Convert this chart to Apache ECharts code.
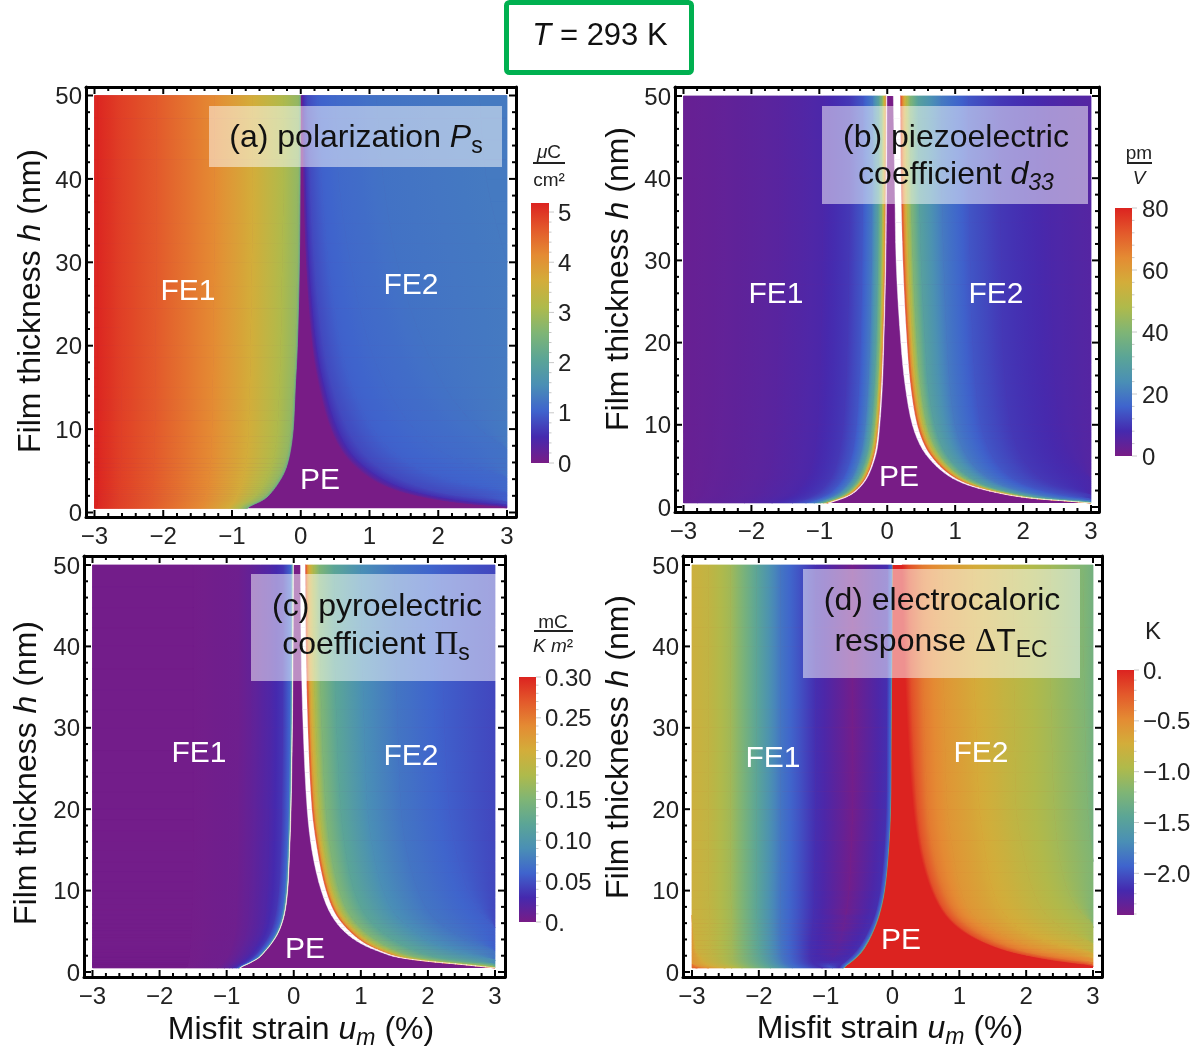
<!DOCTYPE html>
<html><head><meta charset="utf-8">
<style>html,body{margin:0;padding:0;background:#fff}#c{width:1202px;height:1047px}</style>
<script src="https://cdn.jsdelivr.net/npm/echarts@6/dist/echarts.min.js"></script>
</head><body><div id="c"></div>
<script>
// ---- shared axes data ----
const thicknessRows = [50,40,30,20,15,10,7,5,3.5,2.5,1.8,1.3,1,.75,.5];
const strainTicks = [-3,-2,-1,0,1,2,3];
const strainMinor = [-2.8,-2.6,-2.4,-2.2,-1.8,-1.6,-1.4,-1.2,-.8,-.6,-.4,-.2,.2,.4,.6,.8,1.2,1.4,1.6,1.8,2.2,2.4,2.6,2.8];
const thicknessTicks = [0,10,20,30,40,50];
const thicknessMinor = [2,4,6,8,12,14,16,18,22,24,26,28,32,34,36,38,42,44,46,48];
const rainbow = ['#781C86','#4529AE','#3F64CD','#4A8FB5','#5BA596','#7FB575','#AFBA4B','#D3AD3A','#E48B33','#E3592B','#DC2320'];

// ---- (a) polarization: iso-value curves, strain at each thickness row ----
const aRange = [0,5.18];
const aBarTicks = [0,1,2,3,4,5];
const aLeftLevels = [2.4,2.8,3.1,3.63,4.14,4.66,4.9,5.15];
const aLeftStrain = [
[-.005,-.01,-.02,-.05,-.08,-.11,-.16,-.23,-.33,-.42,-.5,-.6,-.68,-.74,-.78],
[-.03,-.04,-.05,-.08,-.11,-.15,-.2,-.28,-.38,-.47,-.56,-.66,-.74,-.8,-.83],
[-.25,-.25,-.27,-.29,-.31,-.34,-.38,-.45,-.53,-.61,-.69,-.77,-.83,-.87,-.9],
[-.7,-.7,-.71,-.73,-.74,-.76,-.78,-.82,-.86,-.9,-.94,-.97,-1,-1.03,-1.05],
[-1.25,-1.25,-1.26,-1.27,-1.28,-1.29,-1.3,-1.32,-1.34,-1.36,-1.38,-1.4,-1.42,-1.43,-1.45],
[-2.1,-2.1,-2.1,-2.11,-2.11,-2.12,-2.13,-2.14,-2.15,-2.16,-2.17,-2.18,-2.19,-2.2,-2.2],
[-2.6,-2.6,-2.6,-2.6,-2.6,-2.61,-2.61,-2.62,-2.62,-2.63,-2.63,-2.64,-2.64,-2.65,-2.65],
[-2.95,-2.95,-2.95,-2.95,-2.95,-2.95,-2.95,-2.95,-2.95,-2.95,-2.96,-2.96,-2.96,-2.97,-2.97]];
const aRightLevels = [0,.3,.6,.8,1,1.1,1.2,1.3];
const aRightStrain = [
[.01,.03,.07,.16,.26,.43,.62,.85,1.12,1.42,1.75,2.1,2.4,2.75,3.1],
[.02,.05,.09,.19,.3,.47,.67,.92,1.2,1.52,1.88,2.25,2.58,3,3.4],
[.05,.08,.13,.24,.36,.55,.76,1.03,1.35,1.7,2.1,2.55,2.95,3.4,4],
[.1,.14,.2,.33,.46,.68,.92,1.22,1.6,2,2.5,3.05,3.5,4,4],
[.25,.3,.4,.58,.75,1.05,1.38,1.8,2.35,2.95,3.6,4,4,4,4],
[.5,.55,.72,1,1.25,1.65,2.1,2.7,3.4,4,4,4,4,4,4],
[1.1,1.2,1.4,1.8,2.1,2.6,3.2,4,4,4,4,4,4,4,4],
[2.6,2.7,3,3.4,4,4,4,4,4,4,4,4,4,4,4]];

// ---- (b) piezoelectric coefficient ----
const bRange = [0,80];
const bBarTicks = [0,20,40,60,80];
const bWhiteLeft = [
[-.005,-.01,-.02,-.05,-.07,-.11,-.15,-.22,-.3,-.39,-.48,-.58,-.67,-.76,-.85],
[-.015,-.02,-.03,-.06,-.085,-.125,-.17,-.235,-.315,-.405,-.495,-.595,-.685,-.775,-.87]];
const bWhiteRight = [
[.09,.11,.13,.2,.26,.37,.52,.72,.96,1.25,1.58,1.9,2.2,2.6,3],
[.19,.2,.23,.29,.34,.44,.58,.77,1,1.28,1.6,1.92,2.22,2.62,3]];
const bLeftLevels = [80,60,40,30,20,14,10,7,5,3.5,2.5];
const bLeftStrain = [
[-.015,-.02,-.03,-.06,-.085,-.125,-.17,-.235,-.315,-.405,-.495,-.595,-.685,-.775,-.87],
[-.03,-.035,-.045,-.075,-.1,-.14,-.19,-.26,-.34,-.43,-.52,-.62,-.71,-.8,-.89],
[-.08,-.085,-.095,-.12,-.145,-.19,-.24,-.31,-.39,-.48,-.57,-.67,-.76,-.85,-.94],
[-.13,-.135,-.145,-.17,-.195,-.24,-.29,-.36,-.44,-.53,-.62,-.72,-.81,-.9,-.99],
[-.22,-.225,-.235,-.26,-.285,-.33,-.38,-.45,-.53,-.62,-.71,-.81,-.9,-.99,-1.08],
[-.36,-.365,-.375,-.4,-.42,-.46,-.51,-.58,-.66,-.75,-.84,-.94,-1.03,-1.12,-1.2],
[-.55,-.555,-.565,-.59,-.61,-.65,-.7,-.76,-.84,-.93,-1.02,-1.12,-1.2,-1.3,-1.4],
[-.95,-.95,-.96,-.98,-1,-1.03,-1.07,-1.12,-1.2,-1.28,-1.36,-1.45,-1.53,-1.62,-1.7],
[-1.6,-1.6,-1.6,-1.62,-1.63,-1.65,-1.68,-1.72,-1.78,-1.84,-1.9,-1.96,-2,-2.05,-2.1],
[-2.4,-2.4,-2.4,-2.41,-2.42,-2.44,-2.46,-2.5,-2.54,-2.58,-2.62,-2.66,-2.7,-2.75,-2.8],
[-3,-3,-3,-3,-3,-3,-3,-3.02,-3.05,-3.08,-3.1,-3.14,-3.18,-3.2,-3.25]];
const bRightLevels = [80,70,60,50,40,30,20,14,10,7,5.5];
const bRightStrain = [
[.19,.2,.23,.29,.34,.44,.58,.77,1,1.28,1.6,1.92,2.22,2.62,3],
[.21,.22,.25,.31,.36,.46,.6,.79,1.02,1.3,1.62,1.94,2.24,2.64,3],
[.24,.25,.28,.34,.39,.49,.63,.82,1.05,1.33,1.65,1.97,2.27,2.67,3.02],
[.28,.29,.32,.38,.43,.53,.67,.86,1.09,1.37,1.69,2,2.3,2.7,3.05],
[.34,.35,.38,.44,.49,.59,.73,.91,1.14,1.42,1.74,2.05,2.35,2.75,3.1],
[.46,.47,.5,.56,.6,.7,.83,1.01,1.24,1.5,1.82,2.13,2.43,2.82,3.2],
[.8,.8,.83,.88,.92,1,1.12,1.28,1.5,1.75,2.05,2.35,2.65,3.05,3.4],
[1.2,1.2,1.22,1.26,1.3,1.38,1.5,1.65,1.85,2.1,2.4,2.7,3,3.4,3.8],
[1.66,1.66,1.68,1.7,1.74,1.82,1.93,2.08,2.28,2.52,2.82,3.15,3.5,3.8,4],
[2.4,2.4,2.42,2.45,2.48,2.55,2.65,2.8,3,3.25,3.6,4,4,4,4],
[3.2,3.2,3.22,3.25,3.28,3.35,3.45,3.6,3.8,4,4,4,4,4,4]];

// ---- (c) pyroelectric coefficient ----
const cRange = [0,.3];
const cBarTicks = [0,.05,.1,.15,.2,.25,.3];
const cWhiteLeft = [
[-.005,-.01,-.02,-.04,-.06,-.09,-.14,-.22,-.33,-.43,-.51,-.61,-.68,-.75,-.8],
[-.012,-.017,-.027,-.047,-.067,-.097,-.147,-.227,-.337,-.437,-.517,-.617,-.687,-.757,-.807]];
const cWhiteRight = [
[.1,.11,.14,.2,.27,.41,.56,.75,1,1.28,1.55,2,2.4,2.7,3],
[.17,.18,.21,.27,.35,.48,.63,.83,1.06,1.32,1.58,2.02,2.42,2.72,3]];
const cLeftLevels = [.2,.1,.06,.036,.024,.018,.012,.006,.003];
const cLeftStrain = [
[-.012,-.017,-.027,-.047,-.067,-.097,-.147,-.227,-.337,-.437,-.517,-.617,-.687,-.757,-.807],
[-.022,-.027,-.037,-.057,-.077,-.107,-.157,-.237,-.347,-.447,-.527,-.627,-.697,-.767,-.817],
[-.05,-.055,-.065,-.085,-.105,-.14,-.19,-.27,-.38,-.48,-.56,-.65,-.72,-.78,-.83],
[-.16,-.165,-.17,-.185,-.2,-.23,-.28,-.35,-.45,-.54,-.62,-.7,-.76,-.82,-.86],
[-.35,-.355,-.36,-.37,-.38,-.4,-.43,-.48,-.56,-.64,-.71,-.78,-.83,-.87,-.91],
[-.5,-.5,-.5,-.51,-.52,-.53,-.55,-.59,-.66,-.73,-.79,-.85,-.89,-.93,-.96],
[-.65,-.65,-.65,-.66,-.66,-.67,-.69,-.72,-.77,-.83,-.88,-.93,-.97,-1,-1.03],
[-.83,-.83,-.83,-.84,-.84,-.85,-.86,-.88,-.92,-.96,-1,-1.05,-1.08,-1.11,-1.14],
[-1.5,-1.5,-1.5,-1.5,-1.5,-1.51,-1.52,-1.53,-1.54,-1.55,-1.56,-1.57,-1.58,-1.59,-1.6]];
const cRightLevels = [.3,.26,.22,.18,.15,.12,.09,.072,.057,.045];
const cRightStrain = [
[.17,.18,.21,.27,.35,.48,.63,.83,1.06,1.32,1.58,2.02,2.42,2.72,3],
[.19,.2,.23,.29,.37,.5,.65,.85,1.08,1.34,1.6,2.04,2.44,2.74,3.02],
[.22,.23,.26,.32,.4,.53,.68,.89,1.12,1.38,1.64,2.08,2.48,2.78,3.05],
[.29,.3,.33,.39,.46,.59,.75,.96,1.2,1.46,1.72,2.16,2.56,2.86,3.1],
[.38,.39,.42,.48,.55,.68,.84,1.06,1.32,1.58,1.86,2.3,2.7,3,3.2],
[.6,.61,.64,.7,.77,.9,1.07,1.3,1.58,1.86,2.15,2.6,3,3.3,3.5],
[1,1.02,1.05,1.1,1.18,1.33,1.52,1.8,2.1,2.45,2.8,3.2,3.6,4,4],
[1.5,1.52,1.55,1.6,1.68,1.85,2.05,2.35,2.7,3.05,3.5,4,4,4,4],
[2.2,2.22,2.25,2.32,2.42,2.6,2.82,3.1,3.5,4,4,4,4,4,4],
[3,3.02,3.05,3.12,3.22,3.4,3.7,4,4,4,4,4,4,4,4]];

// ---- (d) electrocaloric response ----
const dRange = [-2.41,0];
const dBarTicks = [-2,-1.5,-1,-.5,0];
const dLeftLevels = [-1.4,-1.9,-2.15,
  [-2.38,-2.38,-2.38,-2.38,-2.38,-2.37,-2.35,-2.3,-2.27,-2.25,-2.22,-2.18,-2.12,-2.05,-1.95],
  -2.15,-1.83,-1.45,-1.04,-.85,-.77,-.55,-.3];
const dLeftStrain = [
[-.005,-.01,-.02,-.03,-.06,-.12,-.2,-.29,-.38,-.46,-.54,-.61,-.66,-.7,-.73],
[-.015,-.02,-.03,-.04,-.07,-.135,-.22,-.31,-.41,-.49,-.57,-.64,-.69,-.72,-.75],
[-.08,-.085,-.09,-.1,-.13,-.19,-.27,-.37,-.47,-.56,-.64,-.71,-.76,-.79,-.8],
[-.6,-.6,-.6,-.6,-.62,-.65,-.7,-.75,-.8,-.85,-.9,-.93,-.95,-.95,-.9],
[-1.15,-1.15,-1.15,-1.15,-1.16,-1.17,-1.18,-1.2,-1.22,-1.22,-1.22,-1.2,-1.17,-1.12,-1.05],
[-1.67,-1.67,-1.67,-1.67,-1.67,-1.68,-1.68,-1.68,-1.67,-1.66,-1.65,-1.62,-1.6,-1.55,-1.5],
[-2.03,-2.03,-2.03,-2.03,-2.03,-2.03,-2.03,-2.02,-2.01,-2,-1.98,-1.95,-1.92,-1.88,-1.82],
[-2.42,-2.42,-2.42,-2.42,-2.42,-2.42,-2.41,-2.41,-2.41,-2.4,-2.4,-2.38,-2.35,-2.3,-2.25],
[-2.75,-2.75,-2.75,-2.75,-2.75,-2.75,-2.74,-2.74,-2.73,-2.72,-2.7,-2.65,-2.6,-2.5,-2.4],
[-3,-3,-3,-3,-3,-3,-3,-2.98,-2.95,-2.92,-2.85,-2.8,-2.72,-2.65,-2.5],
[-3.4,-3.4,-3.4,-3.4,-3.4,-3.4,-3.4,-3.4,-3.35,-3.3,-3.2,-3.1,-3,-2.9,-2.75],
[-4,-4,-4,-4,-4,-4,-4,-4,-4,-4,-3.8,-3.6,-3.3,-3.1,-2.92]];
const dRightLevels = [0,-.2,-.4,-.55,-.7,-.87,-1.03,-1.2,-1.28];
const dRightStrain = [
[.14,.17,.22,.31,.4,.58,.78,1.04,1.38,1.72,2.1,2.45,2.72,2.95,3.1],
[.25,.27,.31,.38,.46,.63,.83,1.1,1.44,1.8,2.2,2.6,2.9,3.15,3.4],
[.45,.46,.48,.53,.61,.78,.98,1.27,1.63,2,2.45,2.9,3.3,3.6,3.9],
[.75,.76,.78,.82,.9,1.02,1.2,1.55,1.95,2.4,2.9,3.4,4,4,4],
[1.2,1.21,1.25,1.3,1.38,1.5,1.68,1.95,2.4,2.9,3.4,4,4,4,4],
[1.8,1.81,1.83,1.85,1.95,2.1,2.3,2.6,3,3.5,4,4,4,4,4],
[2.36,2.36,2.38,2.42,2.48,2.62,2.85,3.15,3.6,4,4,4,4,4,4],
[2.85,2.86,2.88,2.92,2.98,3.15,3.4,3.8,4,4,4,4,4,4,4],
[3.05,3.06,3.08,3.12,3.2,3.4,3.7,4,4,4,4,4,4,4,4]];

// ---- layout (pixels) ----
const FONT = '"Liberation Sans", Arial, sans-serif';
const panels = [
 {frame:[86,516,87,517],  x3:[94.5,507], y50:[95.5,512.5], range:aRange, pe:0,
  sides:[[aLeftLevels,aLeftStrain,-3],[aRightLevels,aRightStrain,3]], whites:[],
  bar:[531,549,203,463], barTicks:aBarTicks, barMargin:9, barLabel:v=>String(v)},
 {frame:[675,1099,87,512], x3:[683.5,1091], y50:[96,507], range:bRange, pe:0,
  sides:[[bLeftLevels,bLeftStrain,-3],[bRightLevels,bRightStrain,3]], whites:[bWhiteLeft,bWhiteRight],
  bar:[1115,1132,208,456], barTicks:bBarTicks, barMargin:10, barLabel:v=>String(v)},
 {frame:[84,505,556,977], x3:[92.5,495], y50:[565,972], range:cRange, pe:0,
  sides:[[cLeftLevels,cLeftStrain,-3],[cRightLevels,cRightStrain,3]], whites:[cWhiteLeft,cWhiteRight],
  bar:[519,536,677,922], barTicks:cBarTicks, barMargin:9, barLabel:v=>v===0?'0.':v.toFixed(2)},
 {frame:[683,1102,556,977], x3:[692,1093], y50:[565,972], range:dRange, pe:1,
  sides:[[dLeftLevels,dLeftStrain,-3],[dRightLevels,dRightStrain,3]], whites:[],
  bar:[1117,1134,670,915], barTicks:dBarTicks, barMargin:9, barLabel:v=>v===0?'0.':'−'+(-v).toFixed(1)}
];

// ---- colour scale ----
function hex(c){return [parseInt(c.slice(1,3),16),parseInt(c.slice(3,5),16),parseInt(c.slice(5,7),16)];}
const rampRGB = rainbow.map(hex);
function ramp(t){
  t=Math.max(0,Math.min(1,t));
  const p=t*(rampRGB.length-1), i=Math.min(rampRGB.length-2,Math.floor(p)), f=p-i;
  const a=rampRGB[i], b=rampRGB[i+1];
  return 'rgb('+[0,1,2].map(k=>Math.round(a[k]+(b[k]-a[k])*f)).join(',')+')';
}
// ---- curves: drawn as smooth splines through the typed rows (like a smooth line) ----
const tables=[];
function clampU(u){return Math.max(-3,Math.min(3,u));}
function levelAt(l,r){return Array.isArray(l)?(l[r]+l[r+1])/2:l;}
const logRows=thicknessRows.map(Math.log);
function tangent(c,r){
  const n=c.length;
  const a=Math.max(0,r-1), b=Math.min(n-1,r+1);
  return (c[b]-c[a])/(logRows[b]-logRows[a]);
}
function curveU(c,r,f){ // cubic Hermite in log thickness
  const d=logRows[r+1]-logRows[r];
  const f2=f*f,f3=f2*f;
  return (2*f3-3*f2+1)*c[r]+(f3-2*f2+f)*d*tangent(c,r)+(-2*f3+3*f2)*c[r+1]+(f3-f2)*d*tangent(c,r+1);
}
function rowH(r,f){return Math.exp(logRows[r]+(logRows[r+1]-logRows[r])*f);}
const SUB=4;
// ---- one mesh cell per item: [u, u, u, u, h, h, v, v, table, contour, row] ----
function cells(levels,strain,edge){
  const id=tables.push({strain,edge})-1;
  const out=[];
  const n=strain.length;
  for(let k=0;k<n;k++){
    const a=strain[k], b=k<n-1?strain[k+1]:null;
    for(let r=0;r<thicknessRows.length-1;r++){
      const u1=clampU(a[r]),u2=clampU(a[r+1]);
      const u3=b?clampU(b[r]):edge,u4=b?clampU(b[r+1]):edge;
      if(Math.abs(u1-u3)<1e-6&&Math.abs(u2-u4)<1e-6) continue;
      const v1=levelAt(levels[k],r), v2=b?levelAt(levels[k+1],r):v1;
      out.push([u1,u2,u3,u4,thicknessRows[r],thicknessRows[r+1],v1,v2,id,k,r]);
    }
  }
  return out;
}
function meshSeries(g,data,range){
  return {type:'custom',xAxisIndex:g.x,yAxisIndex:g.y,coordinateSystem:'cartesian2d',silent:true,animation:false,
    clip:false,progressive:0,z:3,
    encode:{x:[0,1,2,3],y:[4,5]},data,
    renderItem(p,api){
      const v=i=>api.value(i);
      const tb=tables[v(8)],k=v(9),r=v(10);
      const ca=tb.strain[k], cb=tb.strain[k+1];
      const span=range[1]-range[0], t1=(v(6)-range[0])/span, t2=(v(7)-range[0])/span;
      const children=[];
      for(let j=0;j<SUB;j++){
        const f0=j/SUB,f1=(j+1)/SUB,h0=rowH(r,f0),h1=rowH(r,f1);
        const A=api.coord([clampU(curveU(ca,r,f0)),h0]),B=api.coord([clampU(curveU(ca,r,f1)),h1]);
        const C=api.coord([cb?clampU(curveU(cb,r,f0)):tb.edge,h0]),D=api.coord([cb?clampU(curveU(cb,r,f1)):tb.edge,h1]);
        if(Math.abs(A[0]-C[0])<.15&&Math.abs(B[0]-D[0])<.15) continue;
        let ex=(B[0]-A[0])+(D[0]-C[0]),ey=(B[1]-A[1])+(D[1]-C[1]);
        const len=Math.hypot(ex,ey)||1;ex/=len;ey/=len;
        const nx=ey,ny=-ex;
        const mx=(A[0]+B[0])/2,my=(A[1]+B[1])/2,Mx=(C[0]+D[0])/2,My=(C[1]+D[1])/2;
        const d=(Mx-mx)*nx+(My-my)*ny;
        let fill;
        if(Math.abs(d)<.05||t1===t2){fill=ramp((t1+t2)/2);}
        else{
          const stops=[0,.25,.5,.75,1].map(o=>({offset:o,color:ramp(t1+(t2-t1)*o)}));
          fill=new echarts.graphic.LinearGradient(mx,my,mx+nx*d,my+ny*d,stops,true);
        }
        children.push({type:'polygon',shape:{points:[A,C,D,B]},style:{fill,stroke:fill,lineWidth:.8,lineJoin:'round'}});
      }
      return {type:'group',children};
    }};
}
function bandSeries(g,band){
  const data=[];
  for(let r=0;r<thicknessRows.length-1;r++)
    data.push([clampU(band[0][r]),clampU(band[0][r+1]),clampU(band[1][r]),clampU(band[1][r+1]),thicknessRows[r],thicknessRows[r+1],r]);
  return {type:'custom',xAxisIndex:g.x,yAxisIndex:g.y,silent:true,animation:false,clip:false,progressive:0,z:4,
    encode:{x:[0,1,2,3],y:[4,5]},data,
    renderItem(p,api){
      const r=api.value(6);
      const children=[];
      for(let j=0;j<SUB;j++){
        const f0=j/SUB,f1=(j+1)/SUB,h0=rowH(r,f0),h1=rowH(r,f1);
        children.push({type:'polygon',shape:{points:[
          api.coord([clampU(curveU(band[0],r,f0)),h0]),api.coord([clampU(curveU(band[1],r,f0)),h0]),
          api.coord([clampU(curveU(band[1],r,f1)),h1]),api.coord([clampU(curveU(band[0],r,f1)),h1])]},
          style:{fill:'#fff',stroke:'#fff',lineWidth:.4}});
      }
      return {type:'group',children};
    }};
}
function baseSeries(g,color){
  return {type:'custom',xAxisIndex:g.x,yAxisIndex:g.y,silent:true,animation:false,clip:false,z:2,
    encode:{x:[0,1],y:[2,3]},data:[[-3,3,50,.5]],
    renderItem(p,api){
      const a=api.coord([api.value(0),api.value(2)]),b=api.coord([api.value(1),api.value(3)]);
      return {type:'rect',shape:{x:a[0],y:a[1],width:b[0]-a[0],height:b[1]-a[1]},style:{fill:color}};
    }};
}
// tick marks: item = [x value, y value, pixel dx, pixel dy], placed through the axes' scales
function tickSeries(xi,yi,data,color,w){
  return {type:'custom',xAxisIndex:xi,yAxisIndex:yi,silent:true,animation:false,clip:false,progressive:0,z:6,
    encode:{x:0,y:1},data,
    renderItem(p,api){
      const a=api.coord([api.value(0),api.value(1)]);
      return {type:'line',shape:{x1:a[0],y1:a[1],x2:a[0]+api.value(2),y2:a[1]+api.value(3)},style:{stroke:color,lineWidth:w}};
    }};
}
// ---- option assembly ----
const grid=[],xAxis=[],yAxis=[],series=[];
function addGrid(rect){ grid.push({left:rect[0],width:rect[1]-rect[0],top:rect[2],height:rect[3]-rect[2],containLabel:false});
  return grid.length-1; }
function richLabel(size,fmt,margin,shift){
  return {show:true,margin,fontFamily:FONT,fontSize:size,color:'#222',
    formatter:v=>'{a|'+fmt(v)+'}',
    rich:{a:{fontSize:size,fontFamily:FONT,color:'#222',padding:[shift,0,0,0]}}};
}
function xA(gi,r,pos,vals,labels){
  xAxis.push({type:'value',gridIndex:gi,position:pos,min:r[0],max:r[1],splitLine:{show:false},
    axisLine:{show:true,onZero:false,lineStyle:{color:'#000',width:3}},axisTick:{show:false},
    axisLabel:labels?Object.assign(richLabel(24,v=>v<0?'−'+(-v):String(v),8,0),{customValues:vals}):{show:false}});
  return xAxis.length-1;
}
function yA(gi,r,pos,vals,labels){
  yAxis.push({type:'value',gridIndex:gi,position:pos,min:r[0],max:r[1],splitLine:{show:false},
    axisLine:{show:true,onZero:false,lineStyle:{color:'#000',width:3}},axisTick:{show:false},
    axisLabel:labels?Object.assign(richLabel(24,v=>String(v),4,4),{customValues:vals}):{show:false}});
  return yAxis.length-1;
}
panels.forEach(P=>{
  const [L,R,T,B]=P.frame;
  const sx=(P.x3[1]-P.x3[0])/6, sy=(P.y50[1]-P.y50[0])/50;
  const xr=[-3-(P.x3[0]-L)/sx, 3+(R-P.x3[1])/sx];
  const yr=[-(B-P.y50[1])/sy, 50+(P.y50[0]-T)/sy];
  const g0=addGrid(P.frame);
  const g={x:xA(g0,xr,'bottom',strainTicks,true),y:yA(g0,yr,'left',thicknessTicks,true)};
  xA(g0,xr,'top',strainTicks,false); yA(g0,yr,'right',thicknessTicks,false);

  series.push(baseSeries(g,P.pe?rainbow[10]:rainbow[0]));
  P.sides.forEach(s=>series.push(meshSeries(g,cells(s[0],s[1],s[2]),P.range)));
  P.whites.forEach(w=>series.push(bandSeries(g,w)));

  const ticks=[];
  const addX=(vals,l)=>vals.forEach(u=>{ticks.push([u,yr[0],0,-l],[u,yr[1],0,l]);});
  const addY=(vals,l)=>vals.forEach(h=>{ticks.push([xr[0],h,l,0],[xr[1],h,-l,0]);});
  addX(strainTicks,7);addX(strainMinor,4);addY(thicknessTicks,7);addY(thicknessMinor,4);
  series.push(tickSeries(g.x,g.y,ticks,'#000',2));

  // colour bar
  const bg=addGrid(P.bar);
  const bx=xAxis.push({type:'value',gridIndex:bg,min:0,max:1,show:false})-1;
  const step=P.barTicks[1]-P.barTicks[0];
  const by=yAxis.push({type:'value',gridIndex:bg,position:'right',min:P.range[0],max:P.range[1],splitLine:{show:false},
    axisLine:{show:false},axisTick:{show:false},
    axisLabel:Object.assign(richLabel(24,P.barLabel,P.barMargin,4),{customValues:P.barTicks})})-1;
  const bt=[];
  P.barTicks.forEach(v=>{
    bt.push([1,v,5,0]);
    for(let i=1;i<5;i++){const m=+(v+step*i/5).toFixed(4); if(m<=P.range[1]) bt.push([1,m,2.5,0]);}
    for(let i=1;i<5;i++){const m=+(v-step*i/5).toFixed(4); if(v===P.barTicks[0]&&m>=P.range[0]) bt.push([1,m,2.5,0]);}
  });
  series.push({type:'custom',xAxisIndex:bx,yAxisIndex:by,silent:true,animation:false,
    encode:{x:[0,1],y:[2,3]},data:[[0,1,P.range[1],P.range[0]]],
    renderItem(p,api){
      const a=api.coord([api.value(0),api.value(2)]),b=api.coord([api.value(1),api.value(3)]);
      return {type:'rect',shape:{x:a[0],y:a[1],width:b[0]-a[0],height:b[1]-a[1]},
        style:{fill:new echarts.graphic.LinearGradient(0,1,0,0,rainbow.map((c,i)=>({offset:i/(rainbow.length-1),color:c})))}};
    }});
  series.push(tickSeries(bx,by,bt,'#c8c8c8',1));
});
// ---- texts ----
const gfx=[];
function styles(size,color){
  return {t:{fontSize:size,fontFamily:FONT,fill:color,lineHeight:size+8},
    i:{fontSize:size,fontFamily:FONT,fontStyle:'italic',fill:color,lineHeight:size+8},
    s:{fontSize:Math.round(size*.72),fontFamily:FONT,fill:color,lineHeight:size+8,verticalAlign:'bottom'},
    si:{fontSize:Math.round(size*.72),fontFamily:FONT,fontStyle:'italic',fill:color,lineHeight:size+8,verticalAlign:'bottom'},
    g:{fontSize:size+1,fontFamily:'"Liberation Serif", serif',fill:color,lineHeight:size+8}};
}
function txt(x,y,text,size,color,rot){
  const off=size/15;
  gfx.push({type:'text',x:x+(rot?off:0),y:y+(rot?0:off),rotation:rot||0,z:20,silent:true,
    style:{text,rich:styles(size,color),align:'center',verticalAlign:'middle',fontSize:size,fontFamily:FONT,fill:color}});
}
function box(x,y,w,h){gfx.push({type:'rect',z:15,silent:true,shape:{x,y,width:w,height:h},style:{fill:'rgba(255,255,255,.5)'}});}
function line(x1,x2,y){gfx.push({type:'rect',z:20,silent:true,shape:{x:x1,y:y-1,width:x2-x1,height:2},style:{fill:'#222'}});}

gfx.push({type:'rect',z:20,silent:true,shape:{x:506.5,y:2.5,width:185,height:70,r:3},style:{fill:'#fff',stroke:'#00B050',lineWidth:5}});
txt(600,34,'{i|T}{t| = 293 K}',31,'#111');

const yName='{t|Film thickness }{i|h}{t| (nm)}', xName='{t|Misfit strain }{i|u}{si|m}{t| (%)}';
const up=Math.PI/2;
txt(29,301,yName,32,'#111',up); txt(617,279,yName,32,'#111',up);
txt(25,773,yName,32,'#111',up); txt(617,747,yName,32,'#111',up);
txt(301,1028,xName,32,'#111'); txt(890,1027,xName,32,'#111');

box(209,106,293,61); txt(356,136,'{t|(a) polarization }{i|P}{s|s}',32,'#111');
box(822,106,266,98); txt(956,136,'{t|(b) piezoelectric}',32,'#111'); txt(956,173,'{t|coefficient }{i|d}{si|33}',32,'#111');
box(251,574,245,107); txt(377,605,'{t|(c) pyroelectric}',32,'#111'); txt(376,643,'{t|coefficient }{g|Π}{s|s}',32,'#111');
box(803,569,277,109); txt(942,599,'{t|(d) electrocaloric}',32,'#111'); txt(941,640,'{t|response }{g|Δ}{t|T}{s|EC}',32,'#111');

[[188,290,'FE1'],[411,284,'FE2'],[320,479,'PE'],
 [776,293,'FE1'],[996,293,'FE2'],[899,476,'PE'],
 [199,752,'FE1'],[411,755,'FE2'],[305,948,'PE'],
 [773,757,'FE1'],[981,752,'FE2'],[901,939,'PE']].forEach(a=>txt(a[0],a[1],'{t|'+a[2]+'}',30,'#fff'));

txt(549,151,'{i|μ}{t|C}',19,'#222'); line(533,565,163); txt(549,179,'{t|cm²}',19,'#222');
txt(1139,152,'{t|pm}',19,'#222'); line(1127,1152,163); txt(1139,177,'{i|V}',19,'#222');
txt(553,621,'{t|mC}',19,'#222'); line(534,573,631); txt(553,645,'{i|K m}{t|²}',19,'#222');
txt(1153,631,'{t|K}',24,'#222');

const chart=echarts.init(document.getElementById('c'),null,{renderer:'canvas'});
chart.setOption({animation:false,backgroundColor:'#fff',grid,xAxis,yAxis,series,graphic:{elements:gfx}});
</script></body></html>
